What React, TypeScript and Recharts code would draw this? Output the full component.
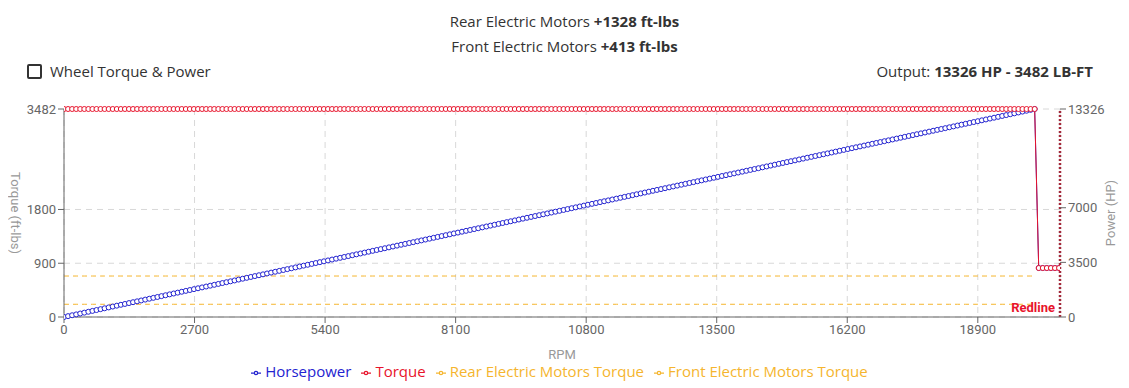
import React from 'react';
import { LineChart, Line, XAxis, YAxis, CartesianGrid, Legend, ReferenceLine } from 'recharts';

const rpm = [
  0, 84, 168, 252, 336, 420, 504, 588, 672, 756,
  840, 924, 1008, 1092, 1176, 1260, 1344, 1428, 1512, 1596,
  1680, 1764, 1848, 1932, 2016, 2100, 2184, 2268, 2352, 2436,
  2520, 2604, 2688, 2772, 2856, 2940, 3024, 3108, 3192, 3276,
  3360, 3444, 3528, 3612, 3696, 3780, 3864, 3948, 4032, 4116,
  4200, 4284, 4368, 4452, 4536, 4620, 4704, 4788, 4872, 4956,
  5040, 5124, 5208, 5292, 5376, 5460, 5544, 5628, 5712, 5796,
  5880, 5964, 6048, 6132, 6216, 6300, 6384, 6468, 6552, 6636,
  6720, 6804, 6888, 6972, 7056, 7140, 7224, 7308, 7392, 7476,
  7560, 7644, 7728, 7812, 7896, 7980, 8064, 8148, 8232, 8316,
  8400, 8484, 8568, 8652, 8736, 8820, 8904, 8988, 9072, 9156,
  9240, 9324, 9408, 9492, 9576, 9660, 9744, 9828, 9912, 9996,
  10080, 10164, 10248, 10332, 10416, 10500, 10584, 10668, 10752, 10836,
  10920, 11004, 11088, 11172, 11256, 11340, 11424, 11508, 11592, 11676,
  11760, 11844, 11928, 12012, 12096, 12180, 12264, 12348, 12432, 12516,
  12600, 12684, 12768, 12852, 12936, 13020, 13104, 13188, 13272, 13356,
  13440, 13524, 13608, 13692, 13776, 13860, 13944, 14028, 14112, 14196,
  14280, 14364, 14448, 14532, 14616, 14700, 14784, 14868, 14952, 15036,
  15120, 15204, 15288, 15372, 15456, 15540, 15624, 15708, 15792, 15876,
  15960, 16044, 16128, 16212, 16296, 16380, 16464, 16548, 16632, 16716,
  16800, 16884, 16968, 17052, 17136, 17220, 17304, 17388, 17472, 17556,
  17640, 17724, 17808, 17892, 17976, 18060, 18144, 18228, 18312, 18396,
  18480, 18564, 18648, 18732, 18816, 18900, 18984, 19068, 19152, 19236,
  19320, 19404, 19488, 19572, 19656, 19740, 19824, 19908, 19992, 20076,
  20160, 20244, 20328, 20412, 20496, 20580,
];

const horsepower = [
  0, 56, 112, 167, 223, 279, 335, 390, 446, 502,
  558, 613, 669, 725, 781, 836, 892, 948, 1004, 1059,
  1115, 1171, 1227, 1282, 1338, 1394, 1450, 1505, 1561, 1617,
  1673, 1728, 1784, 1840, 1896, 1952, 2007, 2063, 2119, 2175,
  2230, 2286, 2342, 2398, 2453, 2509, 2565, 2621, 2676, 2732,
  2788, 2844, 2899, 2955, 3011, 3067, 3122, 3178, 3234, 3290,
  3345, 3401, 3457, 3513, 3568, 3624, 3680, 3736, 3791, 3847,
  3903, 3959, 4015, 4070, 4126, 4182, 4238, 4293, 4349, 4405,
  4461, 4516, 4572, 4628, 4684, 4739, 4795, 4851, 4907, 4962,
  5018, 5074, 5130, 5185, 5241, 5297, 5353, 5408, 5464, 5520,
  5576, 5631, 5687, 5743, 5799, 5855, 5910, 5966, 6022, 6078,
  6133, 6189, 6245, 6301, 6356, 6412, 6468, 6524, 6579, 6635,
  6691, 6747, 6802, 6858, 6914, 6970, 7025, 7081, 7137, 7193,
  7248, 7304, 7360, 7416, 7471, 7527, 7583, 7639, 7695, 7750,
  7806, 7862, 7918, 7973, 8029, 8085, 8141, 8196, 8252, 8308,
  8364, 8419, 8475, 8531, 8587, 8642, 8698, 8754, 8810, 8865,
  8921, 8977, 9033, 9088, 9144, 9200, 9256, 9311, 9367, 9423,
  9479, 9534, 9590, 9646, 9702, 9758, 9813, 9869, 9925, 9981,
  10036, 10092, 10148, 10204, 10259, 10315, 10371, 10427, 10482, 10538,
  10594, 10650, 10705, 10761, 10817, 10873, 10928, 10984, 11040, 11096,
  11151, 11207, 11263, 11319, 11374, 11430, 11486, 11542, 11598, 11653,
  11709, 11765, 11821, 11876, 11932, 11988, 12044, 12099, 12155, 12211,
  12267, 12322, 12378, 12434, 12490, 12545, 12601, 12657, 12713, 12768,
  12824, 12880, 12936, 12991, 13047, 13103, 13159, 13214, 13270, 13326,
  3140, 3140, 3140, 3140, 3140, 3140,
];

const torque = [
  3482, 3482, 3482, 3482, 3482, 3482, 3482, 3482, 3482, 3482, 3482, 3482, 3482, 3482, 3482, 3482, 3482, 3482, 3482, 3482,
  3482, 3482, 3482, 3482, 3482, 3482, 3482, 3482, 3482, 3482, 3482, 3482, 3482, 3482, 3482, 3482, 3482, 3482, 3482, 3482,
  3482, 3482, 3482, 3482, 3482, 3482, 3482, 3482, 3482, 3482, 3482, 3482, 3482, 3482, 3482, 3482, 3482, 3482, 3482, 3482,
  3482, 3482, 3482, 3482, 3482, 3482, 3482, 3482, 3482, 3482, 3482, 3482, 3482, 3482, 3482, 3482, 3482, 3482, 3482, 3482,
  3482, 3482, 3482, 3482, 3482, 3482, 3482, 3482, 3482, 3482, 3482, 3482, 3482, 3482, 3482, 3482, 3482, 3482, 3482, 3482,
  3482, 3482, 3482, 3482, 3482, 3482, 3482, 3482, 3482, 3482, 3482, 3482, 3482, 3482, 3482, 3482, 3482, 3482, 3482, 3482,
  3482, 3482, 3482, 3482, 3482, 3482, 3482, 3482, 3482, 3482, 3482, 3482, 3482, 3482, 3482, 3482, 3482, 3482, 3482, 3482,
  3482, 3482, 3482, 3482, 3482, 3482, 3482, 3482, 3482, 3482, 3482, 3482, 3482, 3482, 3482, 3482, 3482, 3482, 3482, 3482,
  3482, 3482, 3482, 3482, 3482, 3482, 3482, 3482, 3482, 3482, 3482, 3482, 3482, 3482, 3482, 3482, 3482, 3482, 3482, 3482,
  3482, 3482, 3482, 3482, 3482, 3482, 3482, 3482, 3482, 3482, 3482, 3482, 3482, 3482, 3482, 3482, 3482, 3482, 3482, 3482,
  3482, 3482, 3482, 3482, 3482, 3482, 3482, 3482, 3482, 3482, 3482, 3482, 3482, 3482, 3482, 3482, 3482, 3482, 3482, 3482,
  3482, 3482, 3482, 3482, 3482, 3482, 3482, 3482, 3482, 3482, 3482, 3482, 3482, 3482, 3482, 3482, 3482, 3482, 3482, 3482,
  820, 820, 820, 820, 820, 820,
];

const rearTorque = [
  686, 686, 686, 686, 686, 686, 686, 686, 686, 686, 686, 686, 686, 686, 686, 686, 686, 686, 686, 686,
  686, 686, 686, 686, 686, 686, 686, 686, 686, 686, 686, 686, 686, 686, 686, 686, 686, 686, 686, 686,
  686, 686, 686, 686, 686, 686, 686, 686, 686, 686, 686, 686, 686, 686, 686, 686, 686, 686, 686, 686,
  686, 686, 686, 686, 686, 686, 686, 686, 686, 686, 686, 686, 686, 686, 686, 686, 686, 686, 686, 686,
  686, 686, 686, 686, 686, 686, 686, 686, 686, 686, 686, 686, 686, 686, 686, 686, 686, 686, 686, 686,
  686, 686, 686, 686, 686, 686, 686, 686, 686, 686, 686, 686, 686, 686, 686, 686, 686, 686, 686, 686,
  686, 686, 686, 686, 686, 686, 686, 686, 686, 686, 686, 686, 686, 686, 686, 686, 686, 686, 686, 686,
  686, 686, 686, 686, 686, 686, 686, 686, 686, 686, 686, 686, 686, 686, 686, 686, 686, 686, 686, 686,
  686, 686, 686, 686, 686, 686, 686, 686, 686, 686, 686, 686, 686, 686, 686, 686, 686, 686, 686, 686,
  686, 686, 686, 686, 686, 686, 686, 686, 686, 686, 686, 686, 686, 686, 686, 686, 686, 686, 686, 686,
  686, 686, 686, 686, 686, 686, 686, 686, 686, 686, 686, 686, 686, 686, 686, 686, 686, 686, 686, 686,
  686, 686, 686, 686, 686, 686, 686, 686, 686, 686, 686, 686, 686, 686, 686, 686, 686, 686, 686, 686,
];

const frontTorque = [
  213, 213, 213, 213, 213, 213, 213, 213, 213, 213, 213, 213, 213, 213, 213, 213, 213, 213, 213, 213,
  213, 213, 213, 213, 213, 213, 213, 213, 213, 213, 213, 213, 213, 213, 213, 213, 213, 213, 213, 213,
  213, 213, 213, 213, 213, 213, 213, 213, 213, 213, 213, 213, 213, 213, 213, 213, 213, 213, 213, 213,
  213, 213, 213, 213, 213, 213, 213, 213, 213, 213, 213, 213, 213, 213, 213, 213, 213, 213, 213, 213,
  213, 213, 213, 213, 213, 213, 213, 213, 213, 213, 213, 213, 213, 213, 213, 213, 213, 213, 213, 213,
  213, 213, 213, 213, 213, 213, 213, 213, 213, 213, 213, 213, 213, 213, 213, 213, 213, 213, 213, 213,
  213, 213, 213, 213, 213, 213, 213, 213, 213, 213, 213, 213, 213, 213, 213, 213, 213, 213, 213, 213,
  213, 213, 213, 213, 213, 213, 213, 213, 213, 213, 213, 213, 213, 213, 213, 213, 213, 213, 213, 213,
  213, 213, 213, 213, 213, 213, 213, 213, 213, 213, 213, 213, 213, 213, 213, 213, 213, 213, 213, 213,
  213, 213, 213, 213, 213, 213, 213, 213, 213, 213, 213, 213, 213, 213, 213, 213, 213, 213, 213, 213,
  213, 213, 213, 213, 213, 213, 213, 213, 213, 213, 213, 213, 213, 213, 213, 213, 213, 213, 213, 213,
  213, 213, 213, 213, 213, 213, 213, 213, 213, 213, 213, 213, 213, 213, 213, 213, 213, 213, 213, 213,
];

const xTicks = [0, 2700, 5400, 8100, 10800, 13500, 16200, 18900];
const torqueTicks = [0, 900, 1800, 3482];
const powerTicks = [0, 3500, 7000, 13326];
const legendOrder = ['Horsepower', 'Torque', 'Rear Electric Motors Torque', 'Front Electric Motors Torque'];
const redlineRpm = 20600;
const rpmMax = 20600;
const torqueMax = 3482;
const powerMax = 13326;

const data = rpm.map((r, i) => ({
  rpm: r,
  hp: horsepower[i],
  torque: torque[i],
  rear: rearTorque[i] ?? null,
  front: frontTorque[i] ?? null,
}));

const FONT = 'Roboto, "Noto Sans", sans-serif';
const TEXT_FONT = '"Open Sans", Roboto, sans-serif';
const BLUE = '#2323d0';
const RED = '#e8132b';
const ORANGE = '#f5b52e';

export default function App() {
  return (
    <div style={{ position: 'relative', width: 1113, height: 380, fontFamily: TEXT_FONT, color: '#333' }}>
      <div style={{ position: 'absolute', top: 3, left: 0, width: 1113, textAlign: 'center', fontSize: 15, lineHeight: '20px' }}>
        Rear Electric Motors <b>+1328 ft-lbs</b>
      </div>
      <div style={{ position: 'absolute', top: 28, left: 0, width: 1113, textAlign: 'center', fontSize: 15, lineHeight: '20px' }}>
        Front Electric Motors <b>+413 ft-lbs</b>
      </div>
      <div style={{ position: 'absolute', top: 53, left: 19, display: 'flex', alignItems: 'center', fontSize: 15, lineHeight: '20px' }}>
        <div style={{ width: 11, height: 11, border: '2px solid #333', borderRadius: 2, marginRight: 8 }} />
        <span>Wheel Torque &amp; Power</span>
      </div>
      <div style={{ position: 'absolute', top: 53, right: 28, fontSize: 15, lineHeight: '20px' }}>
        Output: <b>13326 HP - 3482 LB-FT</b>
      </div>
      <div style={{ position: 'absolute', top: 85, left: 0 }}>
        <LineChart width={1113} height={291} data={data} margin={{ top: 16, right: 0, left: 0, bottom: 4 }} style={{ fontFamily: FONT }}>
          <CartesianGrid yAxisId="left" stroke="#d8d8d8" strokeDasharray="6 5" />
          <XAxis
            dataKey="rpm"
            type="number"
            domain={[0, rpmMax]}
            ticks={xTicks}
            allowDataOverflow
            stroke="#666"
            tick={{ fill: '#666', fontSize: 13 }}
            height={45}
            label={{ value: 'RPM', position: 'insideBottom', offset: 3, fill: '#999', fontSize: 13 }}
          />
          <YAxis
            yAxisId="left"
            domain={[0, torqueMax]}
            ticks={torqueTicks}
            stroke="#666"
            width={56}
            tick={{ fill: '#666', fontSize: 13 }}
            label={{ value: 'Torque (ft-lbs)', angle: 90, position: 'insideLeft', offset: 8, fill: '#999', fontSize: 13, style: { textAnchor: 'middle' } }}
          />
          <YAxis
            yAxisId="right"
            orientation="right"
            domain={[0, powerMax]}
            ticks={powerTicks}
            stroke="#666"
            axisLine={false}
            width={61}
            tick={{ fill: '#666', fontSize: 13 }}
            label={{ value: 'Power (HP)', angle: -90, position: 'insideRight', offset: 11, fill: '#999', fontSize: 13, style: { textAnchor: 'middle' } }}
          />
          <Legend
            verticalAlign="bottom"
            iconSize={10}
            itemSorter={(item: any) => legendOrder.indexOf(item.value)}
            wrapperStyle={{ fontSize: 15, lineHeight: '18px', fontFamily: TEXT_FONT }}
          />
          <Line
            yAxisId="left"
            dataKey="rear"
            name="Rear Electric Motors Torque"
            stroke={ORANGE}
            strokeDasharray="5 4"
            strokeWidth={1}
            dot={false}
            isAnimationActive={false}
          />
          <Line
            yAxisId="left"
            dataKey="front"
            name="Front Electric Motors Torque"
            stroke={ORANGE}
            strokeDasharray="5 4"
            strokeWidth={1}
            dot={false}
            isAnimationActive={false}
          />
          <Line
            yAxisId="right"
            dataKey="hp"
            name="Horsepower"
            stroke={BLUE}
            strokeWidth={1}
            dot={{ r: 2.5, stroke: BLUE, strokeWidth: 1, fill: '#fff' }}
            isAnimationActive={false}
          />
          <Line
            yAxisId="left"
            dataKey="torque"
            name="Torque"
            stroke={RED}
            strokeWidth={1}
            dot={{ r: 2.5, stroke: RED, strokeWidth: 1, fill: '#fff' }}
            isAnimationActive={false}
          />
          <ReferenceLine
            yAxisId="left"
            x={redlineRpm}
            stroke="#a3283a"
            strokeWidth={2.5}
            strokeDasharray="2 2"
            label={{ value: 'Redline', position: 'insideBottomRight', fill: RED, fontSize: 13, fontWeight: 700 }}
          />
        </LineChart>
      </div>
    </div>
  );
}
